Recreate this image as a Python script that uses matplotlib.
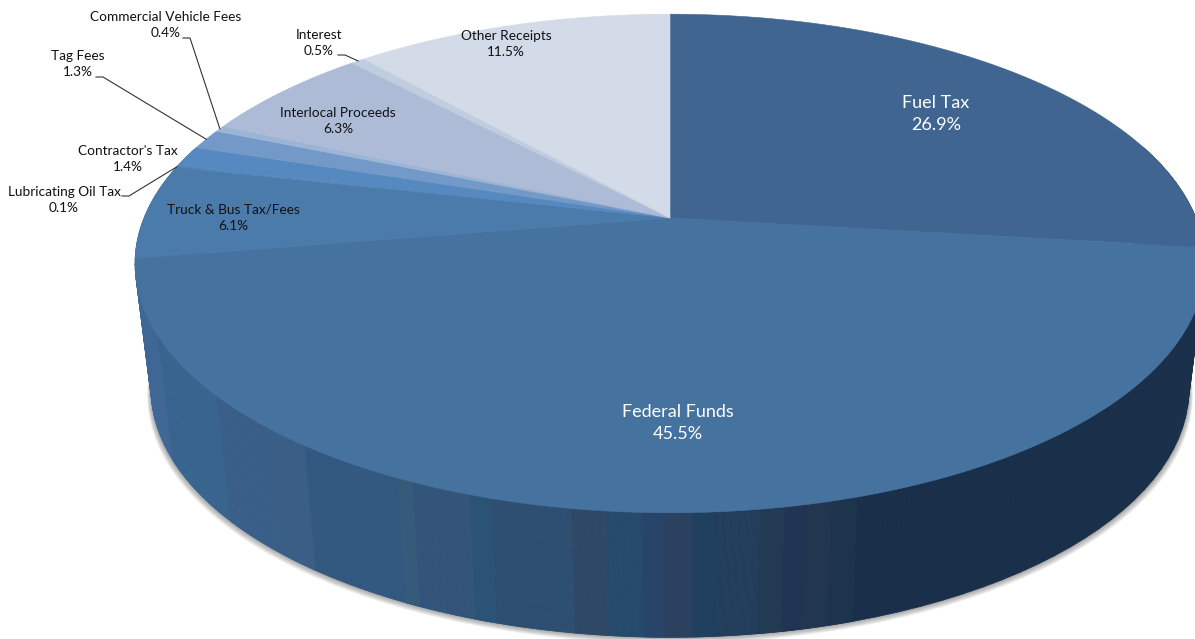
import numpy as np
import matplotlib
matplotlib.use("Agg")
import matplotlib.pyplot as plt
from matplotlib.collections import PolyCollection

plt.rcParams["font.family"] = ["Lato", "DejaVu Sans"]

# slice data, clockwise from 12 o'clock
labels = ["Fuel Tax", "Federal Funds", "Truck & Bus Tax/Fees", "Lubricating Oil Tax", "Contractor's Tax",
          "Tag Fees", "Commercial Vehicle Fees", "Interlocal Proceeds", "Interest", "Other Receipts"]
values = [26.9, 45.5, 6.1, 0.1, 1.4, 1.3, 0.4, 6.3, 0.5, 11.5]
colors = ["#3f6590", "#46729f", "#4a7bab", "#4f82b5", "#5589c0",
          "#7399c8", "#9cb4d6", "#adbbd6", "#bfcde0", "#d3dae8"]

# side wall shading of the Federal Funds slice, left to right
wall_edges = [135, 158, 217, 272, 305, 398, 413, 470, 492, 572, 607, 643, 665, 693, 715, 760, 785, 805, 832, 858, 1205]
wall_colors = ["#3f6796", "#37648f", "#385e88", "#3a5e86", "#325880", "#355a7a", "#32547a", "#2b5376", "#2c4e70",
               "#2f4866", "#264a6c", "#284468", "#2a4260", "#213f5f", "#213c5c", "#223a52", "#223454", "#233650",
               "#1c344c", "#192f4a"]

# perspective pie geometry (pixels)
CX, CY = 670, 218
A, B, K = 526, 241, 0.1824
DROP, SHRINK_X, SHRINK_Y = 126, 0.97, 0.995


def project(frac, sx=1.0, sy=1.0, dy=0.0):
    theta = 2 * np.pi * np.asarray(frac)
    u, v = np.sin(theta), np.cos(theta)
    w = 1 + K * v
    return CX + sx * A * u / w, CY + dy - sy * B * v / w


fig = plt.figure(figsize=(11.95, 6.39), dpi=100)
ax = fig.add_axes([0, 0, 1, 1])
ax.set_xlim(0, 1195)
ax.set_ylim(639, 0)
ax.axis("off")

# soft shadow under the bottom rim
t = np.linspace(0, 1, 721)
for i in range(1, 7):
    bx, by = project(t, sx=SHRINK_X + 0.0012 * i, sy=SHRINK_Y, dy=DROP + i)
    ax.fill(bx, by, color="#444444", alpha=0.09, lw=0, zorder=1)

# side wall, built from small quads so the silhouette closes at both ends
f_lookup = np.linspace(0.24, 0.76, 3000)
x_lookup = project(f_lookup)[0]
mono = (f_lookup > f_lookup[np.argmax(x_lookup)]) & (f_lookup < f_lookup[np.argmin(x_lookup)])
edge_fracs = np.interp(wall_edges, x_lookup[mono][::-1], f_lookup[mono][::-1])
edge_fracs[0], edge_fracs[-1] = 0.80, 0.20
for i, col in enumerate(wall_colors):
    f = np.linspace(edge_fracs[i], edge_fracs[i + 1], 40)
    tx, ty = project(f)
    bx, by = project(f, sx=SHRINK_X, sy=SHRINK_Y, dy=DROP)
    quads = [[(tx[j], ty[j]), (tx[j + 1], ty[j + 1]), (bx[j + 1], by[j + 1]), (bx[j], by[j])]
             for j in range(len(f) - 1)]
    ax.add_collection(PolyCollection(quads, facecolors=col, edgecolors=col, linewidths=0.5, zorder=2))

# top face
cum = np.r_[0, np.cumsum(values)] / 100
for i, col in enumerate(colors):
    f = np.linspace(cum[i], cum[i + 1], max(int(values[i] * 8), 4))
    rx, ry = project(f)
    ax.fill(np.r_[CX, rx], np.r_[CY, ry], color=col, lw=0.4, zorder=3)

# labels: text position, size, colour
label_style = {
    "Fuel Tax": (936, 114, 13, "white"),
    "Federal Funds": (678, 423, 13, "white"),
    "Truck & Bus Tax/Fees": (233, 218, 9.8, "#111111"),
    "Lubricating Oil Tax": (64, 200, 9.8, "#111111"),
    "Contractor's Tax": (128, 159, 9.8, "#111111"),
    "Tag Fees": (78, 64, 9.8, "#111111"),
    "Commercial Vehicle Fees": (166, 25, 9.8, "#111111"),
    "Interlocal Proceeds": (338, 121, 9.8, "#111111"),
    "Interest": (319, 43, 9.8, "#111111"),
    "Other Receipts": (506, 44, 9.8, "#111111"),
}
for name, val in zip(labels, values):
    x, y, size, col = label_style[name]
    ax.text(x, y, f"{name}\n{val:.1f}%", ha="center", va="center", fontsize=size, color=col,
            linespacing=1.45, zorder=5)

# leader lines for the thin slices: elbow start, then to the rim
leaders = {"Lubricating Oil Tax": (122, 196), "Tag Fees": (96, 77),
           "Commercial Vehicle Fees": (183, 38), "Interest": (338, 55)}
for name, (lx, ly) in leaders.items():
    i = labels.index(name)
    ex, ey = project((cum[i] + cum[i + 1]) / 2)
    ax.plot([lx, lx + 7, ex], [ly, ly, ey], color="#333333", lw=0.8, zorder=4)

fig.savefig("out.png", dpi=100)
